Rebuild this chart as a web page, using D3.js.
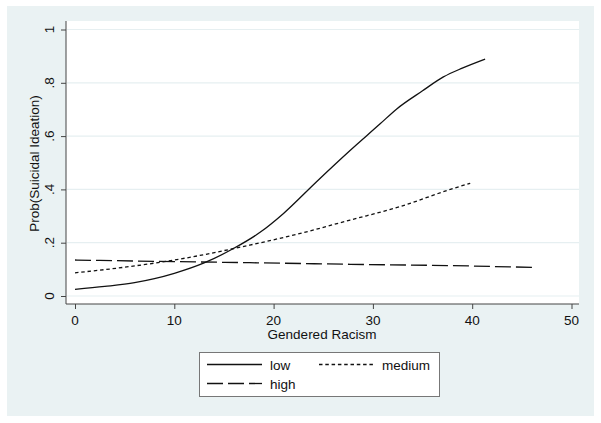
<!DOCTYPE html>
<html>
<head>
<meta charset="utf-8">
<script src="https://cdn.jsdelivr.net/npm/d3@7"></script>
<style>
body { margin:0; background:#fff; }
text { font-family: "Liberation Sans", Arial, sans-serif; fill:#111; }
</style>
</head>
<body>
<div class="Graph"></div>
<script>
// predicted probabilities
const lowX = [0, 3, 6, 8, 10, 13, 16, 18.6, 21, 24.3, 27.7, 30.7, 32.4, 35, 37.1, 39, 41.3];
const lowY = [0.025, 0.036, 0.050, 0.065, 0.085, 0.124, 0.179, 0.238, 0.31, 0.428, 0.546, 0.645, 0.702, 0.77, 0.822, 0.855, 0.889];
const medX = [0, 5, 10, 17.6, 22.7, 27.7, 32.7, 37.8, 39.8];
const medY = [0.087, 0.108, 0.135, 0.191, 0.235, 0.285, 0.335, 0.40, 0.423];
const highX = [0, 10, 17.6, 27.7, 37.8, 46.4];
const highY = [0.135, 0.129, 0.125, 0.119, 0.114, 0.107];
const xTicks = [0, 10, 20, 30, 40, 50];
const yTicks = [0, 0.2, 0.4, 0.6, 0.8, 1];
const yTickLabels = ["0", ".2", ".4", ".6", ".8", "1"];

const W = 601, H = 423;
const svg = d3.select(".Graph").append("svg")
    .attr("width", W).attr("height", H);

// outer graph region
svg.append("rect").attr("x", 7).attr("y", 6).attr("width", 587).attr("height", 410)
    .attr("fill", "#eaf2f3");

const plot = {left: 66, right: 579, top: 21, bottom: 304};
svg.append("rect").attr("x", plot.left).attr("y", plot.top)
    .attr("width", plot.right - plot.left).attr("height", plot.bottom - plot.top)
    .attr("fill", "#fff");

let x = d3.scaleLinear().domain([0, 50]).range([75, 571.5]);
let y = d3.scaleLinear().domain([0, 1]).range([296, 29.5]);

// gridlines
svg.selectAll(".grid").data(yTicks).enter().append("line")
    .attr("x1", plot.left + 1).attr("x2", plot.right)
    .attr("y1", d => y(d)).attr("y2", d => y(d))
    .attr("stroke", "#e6eff1").attr("stroke-width", 1.2);

// y axis
let ya = svg.append("g").attr("transform", "translate(" + plot.left + ",0)")
    .call(d3.axisLeft(y).tickValues(yTicks).tickSize(5).tickFormat(""));
ya.select(".domain").attr("d", "M0," + plot.top + "V" + plot.bottom);
ya.selectAll("path, line").attr("stroke", "#444");
svg.selectAll(".ylab").data(yTicks).enter().append("text")
    .attr("transform", (d, i) => "translate(54," + y(d) + ") rotate(-90)")
    .attr("text-anchor", "middle").attr("font-size", 13.5)
    .text((d, i) => yTickLabels[i]);

// x axis
let xa = svg.append("g").attr("transform", "translate(0," + plot.bottom + ")")
    .call(d3.axisBottom(x).tickValues(xTicks).tickSize(5).tickFormat(""));
xa.select(".domain").attr("d", "M" + plot.left + ",0H" + plot.right);
xa.selectAll("path, line").attr("stroke", "#444");
svg.selectAll(".xlab").data(xTicks).enter().append("text")
    .attr("x", d => x(d)).attr("y", 325)
    .attr("text-anchor", "middle").attr("font-size", 13.5)
    .text(d => d);

// titles
svg.append("text").attr("x", 322).attr("y", 339)
    .attr("text-anchor", "middle").attr("font-size", 13.5).text("Gendered Racism");
svg.append("text").attr("transform", "translate(39,163.5) rotate(-90)")
    .attr("text-anchor", "middle").attr("font-size", 13.5).text("Prob(Suicidal Ideation)");

// lines
const series = [
    {name: "low", xs: lowX, ys: lowY, dash: null},
    {name: "medium", xs: medX, ys: medY, dash: "3.5,2.8"},
    {name: "high", xs: highX, ys: highY, dash: "16,5"}
];
let line = d3.line().curve(d3.curveMonotoneX).x(d => x(d[0])).y(d => y(d[1]));
series.forEach(s => {
    svg.append("path")
        .datum(s.xs.map((v, i) => [v, s.ys[i]]))
        .attr("d", line)
        .attr("fill", "none")
        .attr("stroke", "#111")
        .attr("stroke-width", 1.3)
        .attr("stroke-dasharray", s.dash);
});

// legend
svg.append("rect").attr("x", 199.5).attr("y", 352.5).attr("width", 240).attr("height", 44)
    .attr("fill", "#fff").attr("stroke", "#777").attr("stroke-width", 1);
const legPos = [[207, 364.5], [319, 364.5], [207, 383.5]];
series.forEach((s, i) => {
    let p = legPos[i];
    svg.append("line").attr("x1", p[0]).attr("x2", p[0] + 55)
        .attr("y1", p[1]).attr("y2", p[1])
        .attr("stroke", "#111").attr("stroke-width", 1.3)
        .attr("stroke-dasharray", s.dash);
    svg.append("text").attr("x", p[0] + 63).attr("y", p[1] + 5.5)
        .attr("font-size", 13.5).text(s.name);
});
</script>
</body>
</html>
